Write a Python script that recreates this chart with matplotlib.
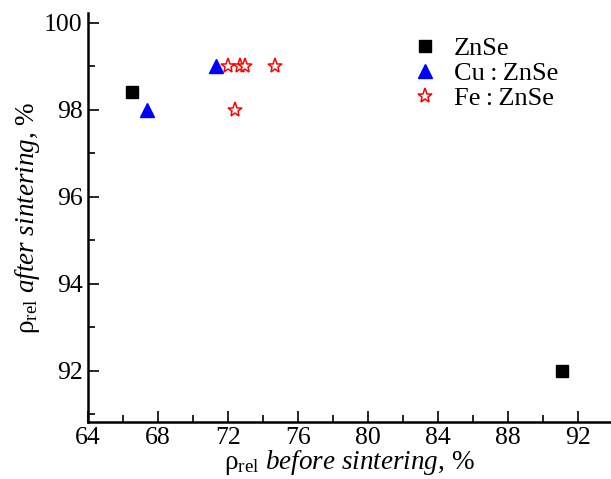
import matplotlib
matplotlib.use('Agg')
import matplotlib.pyplot as plt
from matplotlib.ticker import MultipleLocator

plt.rcParams['font.family'] = ['Liberation Serif', 'DejaVu Serif']
plt.rcParams['mathtext.fontset'] = 'custom'
plt.rcParams['mathtext.rm'] = 'Liberation Serif'
plt.rcParams['mathtext.it'] = 'Liberation Serif:italic'

# data
znse_x = [66.5, 91.1]
znse_y = [98.4, 92.0]
cu_x = [67.4, 71.3]
cu_y = [98.0, 99.0]
fe_x = [72.0, 72.7, 73.0, 74.7, 72.4]
fe_y = [99.0, 99.0, 99.0, 99.0, 98.0]

fig = plt.figure(figsize=(6.11, 4.79), dpi=100)
ax = fig.add_axes([0.144, 0.12, 0.856, 0.853])

ax.plot(znse_x, znse_y, 's', color='black', ms=8, label='ZnSe')
ax.plot(cu_x, cu_y, '^', color='blue', ms=10, label='Cu\u2009:\u2009ZnSe')
ax.plot(fe_x, fe_y, '*', mfc='white', mec='red', mew=1.1, ms=11, ls='none', label='Fe\u2009:\u2009ZnSe')

ax.set_xlim(64, 93.9)
ax.set_ylim(90.83, 100.22)
ax.xaxis.set_major_locator(MultipleLocator(4))
ax.xaxis.set_minor_locator(MultipleLocator(2))
ax.yaxis.set_major_locator(MultipleLocator(2))
ax.yaxis.set_minor_locator(MultipleLocator(1))

for s in ['top', 'right']:
    ax.spines[s].set_visible(False)
for s in ['left', 'bottom']:
    ax.spines[s].set_linewidth(1.8)

ax.tick_params(which='both', direction='in', labelsize=18.5, width=1.2)
ax.tick_params(which='major', length=8, pad=4)
ax.tick_params(which='minor', length=5)

ax.set_xlabel(r'ρ$_{\mathrm{rel}}$ $\mathit{before\ sintering}$, %', fontsize=19.5, labelpad=-1)
ax.set_ylabel(r'ρ$_{\mathrm{rel}}$ $\mathit{after\ sintering}$, %', fontsize=19.5, labelpad=1)

ax.legend(loc='upper right', bbox_to_anchor=(0.945, 1.0), frameon=False, fontsize=19,
          handletextpad=0.5, labelspacing=0.05, handlelength=1.2)

fig.savefig('out.png', dpi=100)
